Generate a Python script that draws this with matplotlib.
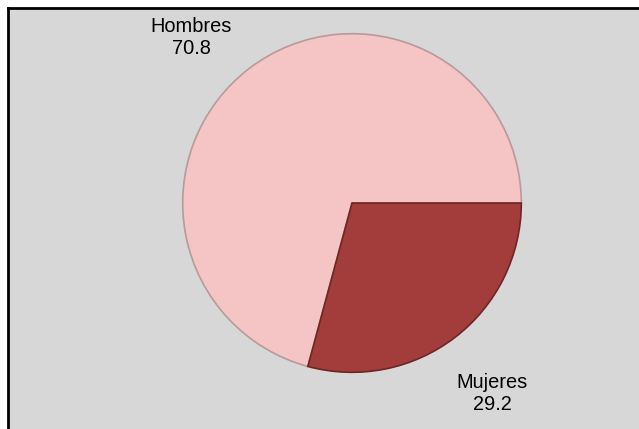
import matplotlib
matplotlib.use('Agg')
import matplotlib.pyplot as plt

# datos
categorias = ['Hombres', 'Mujeres']
valores = [70.8, 29.2]
colores = ['#F5C4C4', '#A33D3B']
bordes = ['#B89A9A', '#6E2624']

plt.rcParams['font.family'] = ['Liberation Sans', 'DejaVu Sans']

W, H = 639, 429
fig = plt.figure(figsize=(W / 100, H / 100), dpi=100, facecolor='white')

# fondo gris con borde superior e izquierdo
bg = fig.add_axes([8 / W, 0, 1 - 8 / W, (H - 8) / H])
bg.set_facecolor('#D7D7D7')
bg.set_xticks([])
bg.set_yticks([])
for s in ['right', 'bottom']:
    bg.spines[s].set_visible(False)
for s in ['top', 'left']:
    bg.spines[s].set_linewidth(2.0)
    bg.spines[s].set_color('black')

# pastel
cx, cy, r = 352, 203, 171
ax = fig.add_axes([(cx - r) / W, (H - cy - r) / H, 2 * r / W, 2 * r / H])
wedges, _ = ax.pie(valores, colors=colores, startangle=0, counterclock=True,
                   wedgeprops=dict(linewidth=1.2))
for w, e in zip(wedges, bordes):
    w.set_edgecolor(e)
ax.set_xlim(-1.01, 1.01)
ax.set_ylim(-1.01, 1.01)
ax.set_aspect('equal')
ax.axis('off')

# etiquetas
pos = [(191, 37), (492, 394)]
for cat, val, (x, y) in zip(categorias, valores, pos):
    fig.text(x / W, 1 - y / H, f'{cat}\n{val:.1f}', ha='center', va='center',
             fontsize=14.4, linespacing=1.2, color='black')

fig.savefig('out.png', dpi=100, facecolor='white')
